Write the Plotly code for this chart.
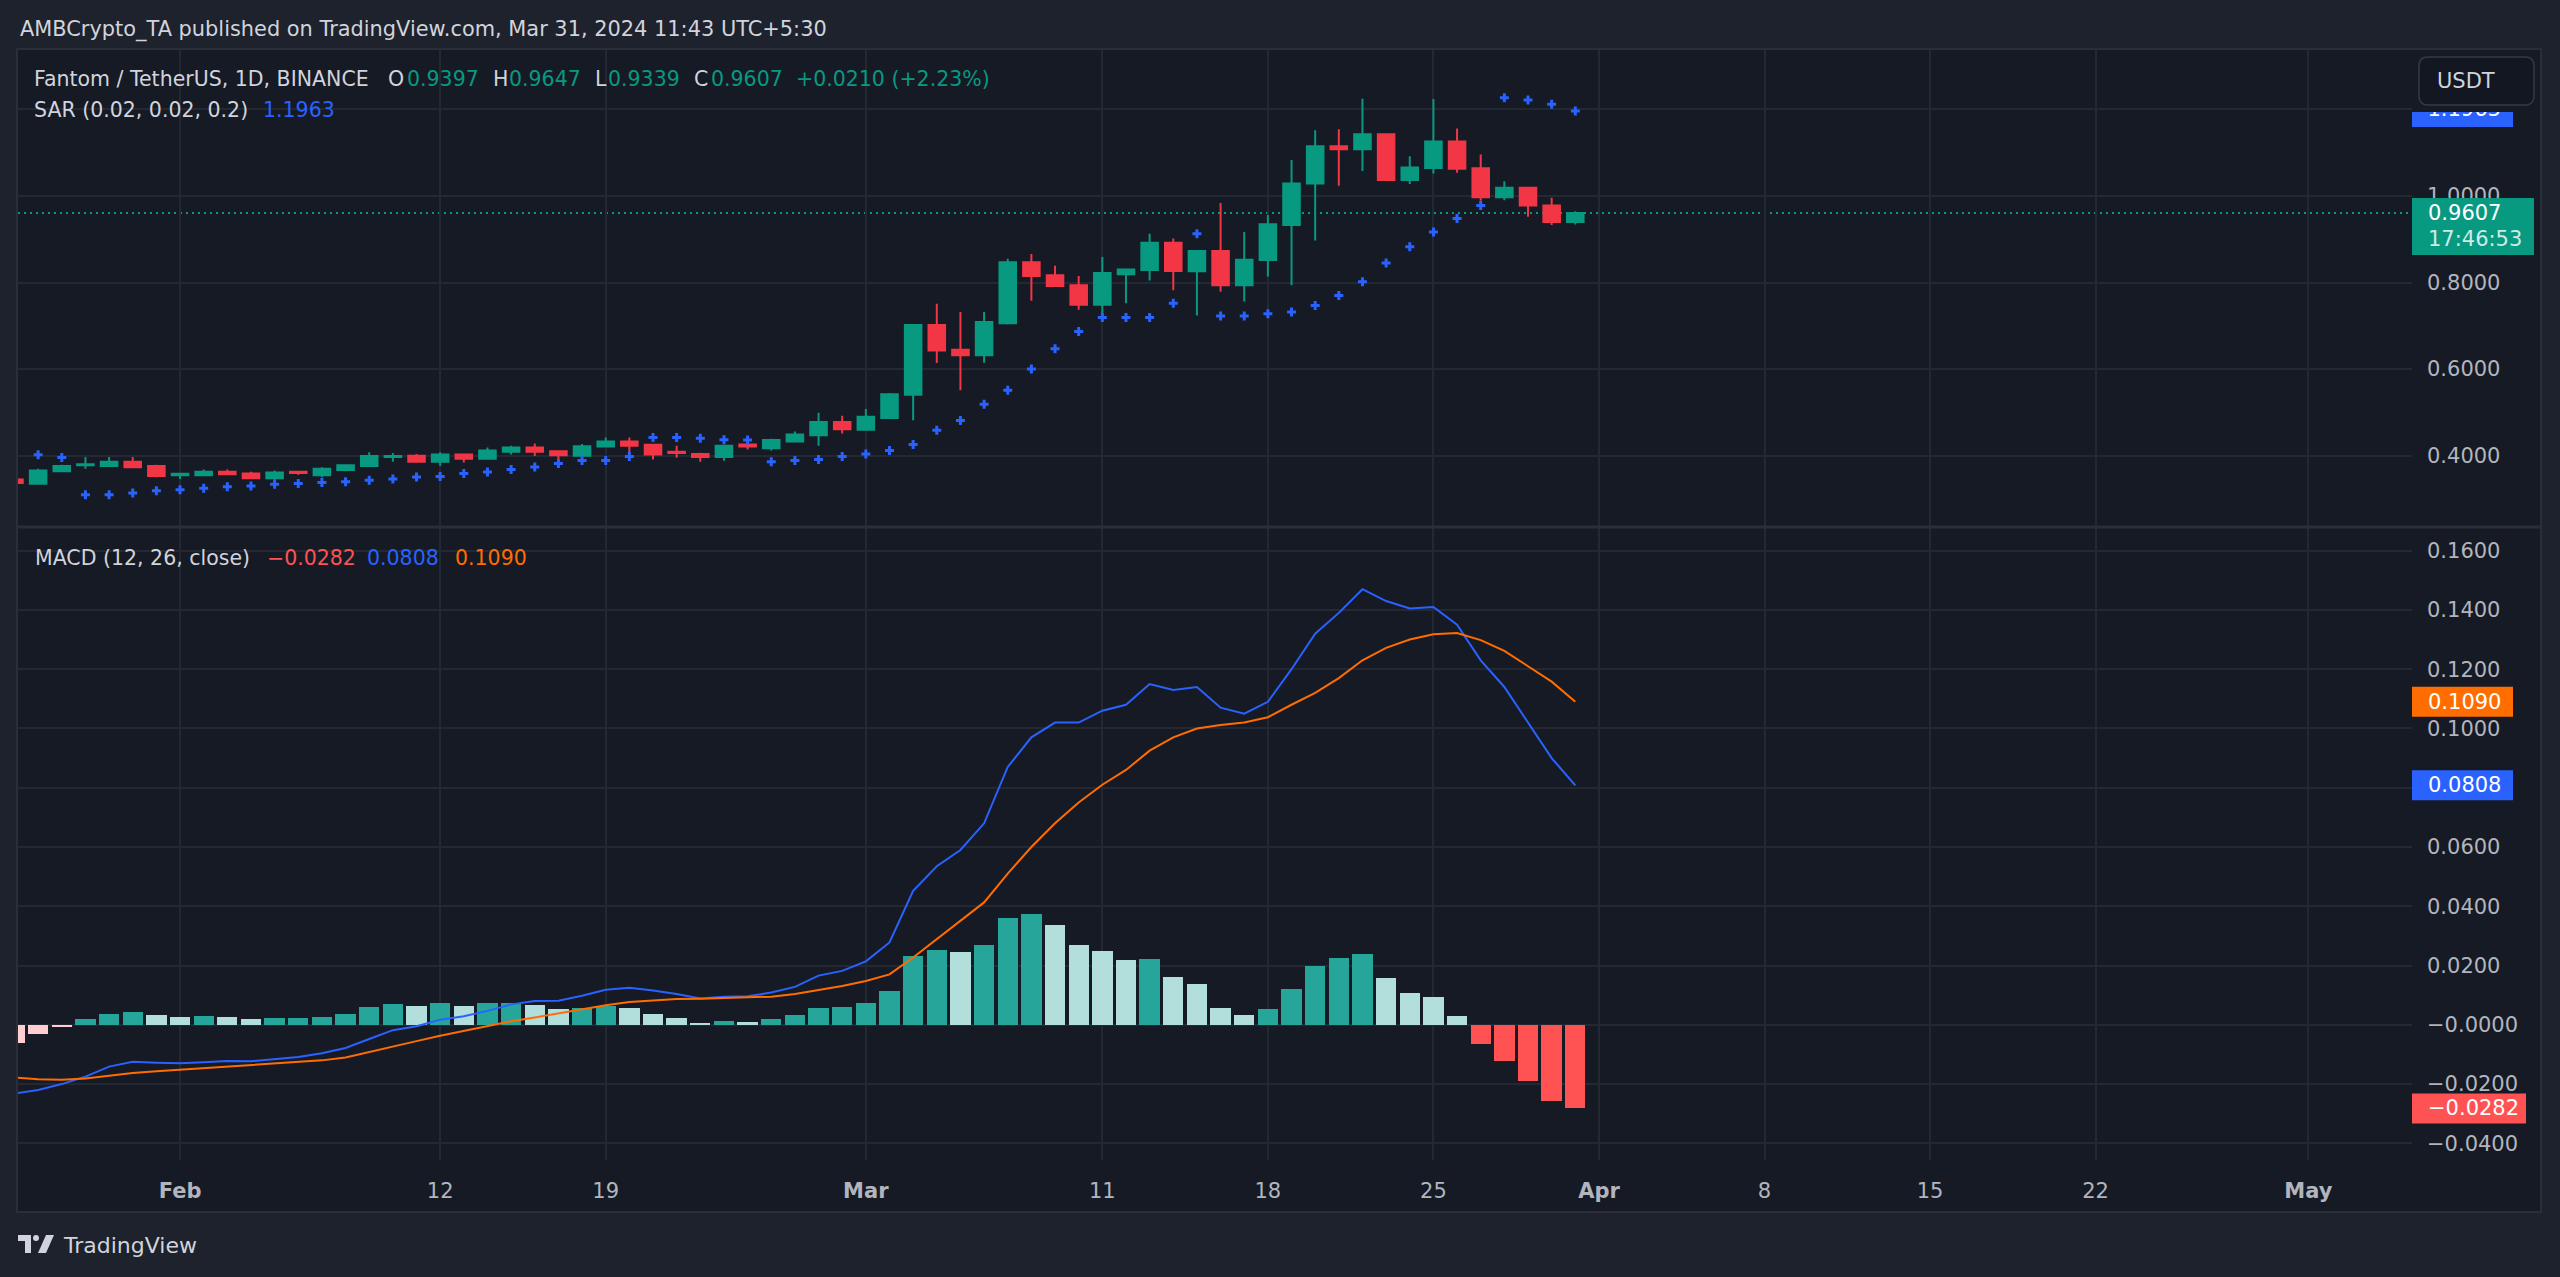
import pandas as pd
import plotly.graph_objects as go

W, H = 2560, 1277
FONT = "DejaVu Sans"

# ---------------- data ----------------
dates = pd.date_range("2024-01-25", "2024-03-31", freq="D").strftime("%Y-%m-%d").tolist()

opens = [0.345, 0.335, 0.364, 0.378, 0.376, 0.386, 0.376,
         0.355, 0.355, 0.363, 0.359, 0.348, 0.363, 0.355, 0.367, 0.376, 0.397,
         0.400, 0.386, 0.403, 0.393, 0.409, 0.419, 0.410, 0.400, 0.421, 0.433,
         0.425, 0.409, 0.404, 0.397, 0.426, 0.417, 0.433, 0.447, 0.478,
         0.460, 0.487, 0.541, 0.702, 0.645, 0.632, 0.706, 0.847, 0.817, 0.794,
         0.749, 0.819, 0.829, 0.892, 0.826, 0.873, 0.794, 0.852, 0.933, 1.029,
         1.115, 1.108, 1.143, 1.037, 1.065, 1.126, 1.064, 0.997, 1.019, 0.978, 0.9397]
highs = [0.348, 0.370, 0.379, 0.397, 0.397, 0.397, 0.379,
         0.358, 0.368, 0.368, 0.363, 0.366, 0.365, 0.373, 0.380, 0.408, 0.406,
         0.404, 0.408, 0.405, 0.419, 0.423, 0.428, 0.412, 0.427, 0.442, 0.442,
         0.427, 0.423, 0.407, 0.425, 0.430, 0.439, 0.456, 0.499, 0.492,
         0.508, 0.545, 0.703, 0.751, 0.732, 0.732, 0.855, 0.866, 0.839, 0.815,
         0.859, 0.831, 0.913, 0.902, 0.875, 0.984, 0.917, 0.956, 1.083, 1.152,
         1.154, 1.225, 1.145, 1.092, 1.224, 1.156, 1.096, 1.034, 1.021, 0.996, 0.9647]
lows = [0.334, 0.333, 0.362, 0.370, 0.374, 0.372, 0.350,
        0.346, 0.354, 0.355, 0.347, 0.343, 0.356, 0.350, 0.364, 0.375, 0.386,
        0.385, 0.376, 0.384, 0.392, 0.403, 0.399, 0.385, 0.398, 0.420, 0.405,
        0.391, 0.395, 0.386, 0.388, 0.414, 0.412, 0.432, 0.423, 0.451,
        0.458, 0.485, 0.482, 0.614, 0.551, 0.615, 0.703, 0.758, 0.790, 0.737,
        0.720, 0.752, 0.805, 0.782, 0.724, 0.779, 0.756, 0.814, 0.794, 0.897,
        1.024, 1.058, 1.035, 1.028, 1.052, 1.054, 0.989, 0.990, 0.952, 0.933, 0.9339]
closes = [0.337, 0.366, 0.376, 0.380, 0.386, 0.373, 0.353,
          0.358, 0.363, 0.357, 0.348, 0.361, 0.360, 0.370, 0.378, 0.399, 0.399,
          0.386, 0.403, 0.393, 0.412, 0.419, 0.409, 0.401, 0.422, 0.433, 0.423,
          0.403, 0.406, 0.397, 0.423, 0.421, 0.436, 0.449, 0.478, 0.461,
          0.490, 0.542, 0.702, 0.643, 0.632, 0.709, 0.847, 0.815, 0.792, 0.749,
          0.822, 0.830, 0.892, 0.827, 0.873, 0.794, 0.853, 0.935, 1.029, 1.115,
          1.108, 1.143, 1.037, 1.066, 1.126, 1.063, 0.997, 1.019, 0.978, 0.9397, 0.9607]

sar = [None, 0.402, 0.396, 0.310, 0.310, 0.314, 0.319,
       0.321, 0.325, 0.328, 0.330, 0.334, 0.336, 0.338, 0.340, 0.343, 0.346,
       0.351, 0.352, 0.359, 0.362, 0.368, 0.374, 0.382, 0.389, 0.389, 0.398,
       0.442, 0.442, 0.440, 0.437, 0.436, 0.386, 0.389, 0.391, 0.398,
       0.404, 0.412, 0.426, 0.459, 0.481, 0.519, 0.551, 0.600, 0.647, 0.687,
       0.719, 0.719, 0.719, 0.752, 0.913, 0.723, 0.723, 0.728, 0.732, 0.747,
       0.770, 0.802, 0.845, 0.883, 0.917, 0.948, 0.978, 1.227, 1.222, 1.212, 1.1963]

macd_line = [-0.0232, -0.0220, -0.0200, -0.0175, -0.0141, -0.0125, -0.0128,
             -0.0130, -0.0126, -0.0122, -0.0123, -0.0116, -0.0109, -0.0096, -0.0078,
             -0.0048, -0.0018, -0.0005, 0.0017, 0.0029, 0.0047, 0.0069, 0.0080,
             0.0081, 0.0098, 0.0118, 0.0125, 0.0116, 0.0104, 0.0089, 0.0095,
             0.0096, 0.0109, 0.0128, 0.0166, 0.0182,
             0.0214, 0.0278, 0.0452, 0.0535, 0.0590, 0.0680, 0.0870, 0.0970,
             0.1020, 0.1020, 0.1060, 0.1080, 0.1150, 0.1130, 0.1140, 0.1070,
             0.1050, 0.1090, 0.1200, 0.1320, 0.1390, 0.1470, 0.1430, 0.1405,
             0.1410, 0.1350, 0.1230, 0.1140, 0.1020, 0.0900, 0.0808]
signal_line = [-0.0178, -0.0184, -0.0185, -0.0181, -0.0172, -0.0163, -0.0157,
               -0.0152, -0.0146, -0.0142, -0.0136, -0.0132, -0.0126, -0.0120, -0.0110,
               -0.0091, -0.0072, -0.0055, -0.0037, -0.0020, -0.0003, 0.0012, 0.0025,
               0.0039, 0.0053, 0.0066, 0.0077, 0.0083, 0.0087, 0.0088, 0.0090,
               0.0091, 0.0095, 0.0104, 0.0118, 0.0131,
               0.0148, 0.0170, 0.0227, 0.0289, 0.0349, 0.0413, 0.0510, 0.0600,
               0.0680, 0.0750, 0.0810, 0.0860, 0.0925, 0.0970, 0.1000, 0.1012,
               0.1020, 0.1038, 0.1080, 0.1120, 0.1170, 0.1230, 0.1272, 0.1300,
               0.1318, 0.1322, 0.1298, 0.1262, 0.1210, 0.1158, 0.1090]
hist = [-0.0060, -0.0032, -0.0007, 0.0018, 0.0037, 0.0044, 0.0032,
        0.0025, 0.0029, 0.0026, 0.0019, 0.0023, 0.0024, 0.0028, 0.0037, 0.0060,
        0.0069, 0.0065, 0.0072, 0.0065, 0.0072, 0.0075, 0.0066, 0.0053, 0.0056,
        0.0063, 0.0056, 0.0038, 0.0023, 0.0007, 0.0012, 0.0011, 0.0021, 0.0033,
        0.0057, 0.0060,
        0.0072, 0.0113, 0.0231, 0.0252, 0.0246, 0.0270, 0.0359, 0.0373, 0.0338,
        0.0269, 0.0248, 0.0220, 0.0222, 0.0163, 0.0137, 0.0057, 0.0033, 0.0054,
        0.0120, 0.0200, 0.0225, 0.0239, 0.0157, 0.0106, 0.0095, 0.0029,
        -0.0066, -0.0123, -0.0189, -0.0257, -0.0282]
hist_kind = ["p", "p", "p", "T", "T", "T", "t",
             "t", "T", "t", "t", "T", "T", "T", "T", "T", "T", "t", "T", "t", "T",
             "T", "t", "t", "T", "T", "t", "t", "t", "t", "T", "t", "T", "T", "T", "T",
             "T", "T", "T", "T", "t", "T", "T", "T", "t", "t", "t", "t", "T", "t",
             "t", "t", "t", "T", "T", "T", "T", "T", "t", "t", "t", "t",
             "r", "r", "r", "r", "r"]

price_ticks = [0.4, 0.6, 0.8, 1.0, 1.2]
price_tick_labels = ["0.4000", "0.6000", "0.8000", "1.0000", ""]
macd_ticks = [-0.04, -0.02, 0.0, 0.02, 0.04, 0.06, 0.08, 0.10, 0.12, 0.14, 0.16]
macd_tick_labels = ["\u22120.0400", "\u22120.0200", "\u22120.0000", "0.0200", "0.0400",
                    "0.0600", "0.0800", "0.1000", "0.1200", "0.1400", "0.1600"]
time_ticks = ["2024-02-01", "2024-02-12", "2024-02-19", "2024-03-01", "2024-03-11",
              "2024-03-18", "2024-03-25", "2024-04-01", "2024-04-08", "2024-04-15",
              "2024-04-22", "2024-05-01"]
time_tick_labels = ["<b>Feb</b>", "12", "19", "<b>Mar</b>", "11", "18", "25", "<b>Apr</b>",
                    "8", "15", "22", "<b>May</b>"]
time_range = ["2024-01-25 03:34", "2024-05-05 09:07"]

# ---------------- style ----------------
BG_OUT = "#1E222D"
BG = "#161A25"
GRID = "#242833"
BORDER = "#2A2E39"
UP = "#089981"
DOWN = "#F23645"
BLUE = "#2962FF"
ORANGE = "#FF6D00"
RED = "#FF5252"
TEXT = "#D1D4DC"
AXT = "#B2B5BE"
HIST_COL = {"T": "#26A69A", "t": "#B2DFDB", "p": "#FFCDD2", "r": "#FF5252"}

PLOT_L, PLOT_R = 18, 2412
FRAME_R = 2541
TOP, SEP, MACD_B, FRAME_B = 49, 527, 1160, 1212


def px(x):
    return x / W


def py(y):
    return 1 - y / H


fig = go.Figure()

fig.add_trace(go.Candlestick(
    x=dates, open=opens, high=highs, low=lows, close=closes,
    increasing=dict(line=dict(color=UP, width=2), fillcolor=UP),
    decreasing=dict(line=dict(color=DOWN, width=2), fillcolor=DOWN),
    whiskerwidth=0, xaxis="x", yaxis="y", showlegend=False, hoverinfo="skip"))
fig.add_trace(go.Scatter(
    x=dates, y=sar, mode="markers", xaxis="x", yaxis="y", showlegend=False,
    marker=dict(symbol="cross", size=7.5, color=BLUE, line=dict(width=0)), hoverinfo="skip"))

fig.add_trace(go.Bar(
    x=dates, y=hist, marker=dict(color=[HIST_COL[k] for k in hist_kind], line=dict(width=0)),
    width=0.86 * 86400000, xaxis="x2", yaxis="y2", showlegend=False, hoverinfo="skip"))
fig.add_trace(go.Scatter(
    x=dates, y=macd_line, mode="lines", line=dict(color=BLUE, width=2),
    xaxis="x2", yaxis="y2", showlegend=False, hoverinfo="skip"))
fig.add_trace(go.Scatter(
    x=dates, y=signal_line, mode="lines", line=dict(color=ORANGE, width=2),
    xaxis="x2", yaxis="y2", showlegend=False, hoverinfo="skip"))

# SAR value label text in the price-scale column (so its top can be clipped)
fig.add_trace(go.Scatter(
    x=[0.12], y=[sar[-1]], mode="text", text=[f"{sar[-1]:.4f}"],
    textposition="middle right", cliponaxis=False,
    textfont=dict(family=FONT, size=21, color="#FFFFFF"),
    xaxis="x3", yaxis="y3", showlegend=False, hoverinfo="skip"))

price_range = [0.2352, 1.3397]
macd_range = [-0.04562, 0.16798]
ydom_price = [py(SEP), py(TOP)]
ydom_macd = [py(MACD_B), py(SEP)]

xcommon = dict(type="date", range=time_range, domain=[px(PLOT_L), px(PLOT_R)],
               tickvals=time_ticks, ticktext=time_tick_labels, showgrid=True,
               gridcolor=GRID, gridwidth=1.5, zeroline=False, showline=False, ticks="",
               rangeslider=dict(visible=False), fixedrange=True)
ycommon = dict(side="right", showgrid=True, gridcolor=GRID, gridwidth=1.5, zeroline=False,
               showline=False, ticks="", fixedrange=True, ticklabelstandoff=14,
               tickfont=dict(family=FONT, size=21, color=AXT))

fig.update_layout(
    width=W, height=H, margin=dict(l=0, r=0, t=0, b=0),
    paper_bgcolor=BG_OUT, plot_bgcolor=BG, showlegend=False,
    boxgap=0.3, boxgroupgap=0, bargap=0,
    xaxis=dict(xcommon, anchor="y", showticklabels=False),
    xaxis2=dict(xcommon, anchor="y2", matches="x", showticklabels=True, ticklabelstandoff=16,
                tickfont=dict(family=FONT, size=21, color=AXT)),
    yaxis=dict(ycommon, domain=ydom_price, range=price_range, anchor="x",
               tickvals=price_ticks, ticktext=price_tick_labels),
    yaxis2=dict(ycommon, domain=ydom_macd, range=macd_range, anchor="x2",
                tickvals=macd_ticks, ticktext=macd_tick_labels),
    xaxis3=dict(domain=[px(PLOT_R), px(FRAME_R)], range=[0, 1], visible=False,
                anchor="y3", fixedrange=True),
    yaxis3=dict(domain=ydom_price, range=price_range, visible=False, anchor="x3",
                fixedrange=True),
)

shapes = []
# chart region background
shapes.append(dict(type="rect", xref="paper", yref="paper", x0=px(16), x1=px(FRAME_R),
                   y0=py(FRAME_B), y1=py(TOP), fillcolor=BG, line=dict(width=0), layer="below"))
# last price dotted line
shapes.append(dict(type="line", xref="paper", yref="y", x0=px(PLOT_L), x1=px(PLOT_R),
                   y0=closes[-1], y1=closes[-1], line=dict(color=UP, width=2, dash="2px,4px"),
                   layer="below"))
# macd zero dashed line
shapes.append(dict(type="line", xref="paper", yref="y2", x0=px(PLOT_L), x1=px(PLOT_R),
                   y0=0, y1=0, line=dict(color="#5D606B", width=1.5, dash="9px,7px"),
                   layer="below"))
# SAR label box (below its text)
shapes.append(dict(type="rect", xref="paper", yref="y", x0=px(PLOT_R), x1=px(2513),
                   ysizemode="pixel", yanchor=sar[-1], y0=-16, y1=15,
                   fillcolor=BLUE, line=dict(width=0), layer="below"))
# cover hiding top part of SAR label
shapes.append(dict(type="rect", xref="paper", yref="paper", x0=px(PLOT_R), x1=px(FRAME_R - 1),
                   y0=py(112), y1=py(TOP + 1), fillcolor=BG, line=dict(width=0), layer="above"))
# last price label box
shapes.append(dict(type="rect", xref="paper", yref="y", x0=px(PLOT_R), x1=px(2534),
                   ysizemode="pixel", yanchor=closes[-1], y0=-42, y1=15,
                   fillcolor=UP, line=dict(width=0), layer="above"))
# MACD labels boxes
for val, col, right in [(signal_line[-1], ORANGE, 2513), (macd_line[-1], BLUE, 2513),
                        (hist[-1], RED, 2526)]:
    shapes.append(dict(type="rect", xref="paper", yref="y2", x0=px(PLOT_R), x1=px(right),
                       ysizemode="pixel", yanchor=val, y0=-15, y1=15,
                       fillcolor=col, line=dict(width=0), layer="above"))


def rrect(x0, y0, x1, y1, r):
    return (f"M {px(x0 + r)},{py(y0)} L {px(x1 - r)},{py(y0)} Q {px(x1)},{py(y0)} {px(x1)},{py(y0 + r)} "
            f"L {px(x1)},{py(y1 - r)} Q {px(x1)},{py(y1)} {px(x1 - r)},{py(y1)} L {px(x0 + r)},{py(y1)} "
            f"Q {px(x0)},{py(y1)} {px(x0)},{py(y1 - r)} L {px(x0)},{py(y0 + r)} Q {px(x0)},{py(y0)} {px(x0 + r)},{py(y0)} Z")


# USDT button
shapes.append(dict(type="path", xref="paper", yref="paper", path=rrect(2419, 57, 2534, 105, 9),
                   fillcolor="#131722", line=dict(color="#363A45", width=1.5), layer="above"))
# frame + separator
shapes.append(dict(type="rect", xref="paper", yref="paper", x0=px(17), x1=px(FRAME_R),
                   y0=py(FRAME_B), y1=py(TOP), line=dict(color=BORDER, width=2), layer="above"))
shapes.append(dict(type="line", xref="paper", yref="paper", x0=px(17), x1=px(FRAME_R),
                   y0=py(SEP), y1=py(SEP), line=dict(color=BORDER, width=3), layer="above"))
# TradingView logo
shapes.append(dict(type="path", xref="paper", yref="paper", layer="above", fillcolor=TEXT,
                   line=dict(width=0),
                   path=f"M {px(18)},{py(1235)} L {px(31)},{py(1235)} L {px(31)},{py(1253)} "
                        f"L {px(25)},{py(1253)} L {px(25)},{py(1241)} L {px(18)},{py(1241)} Z"))
shapes.append(dict(type="circle", xref="paper", yref="paper", layer="above", fillcolor=TEXT,
                   line=dict(width=0), x0=px(33), x1=px(39), y0=py(1241), y1=py(1235)))
shapes.append(dict(type="path", xref="paper", yref="paper", layer="above", fillcolor=TEXT,
                   line=dict(width=0),
                   path=f"M {px(46)},{py(1235)} L {px(54)},{py(1235)} L {px(46)},{py(1253)} "
                        f"L {px(38)},{py(1253)} Z"))
fig.update_layout(shapes=shapes)


def label(x, y, text, color, size=20.5, anchor="left", weight=None):
    fig.add_annotation(x=px(x), y=py(y), xref="paper", yref="paper", text=text,
                       showarrow=False, xanchor=anchor, yanchor="middle", borderpad=0,
                       font=dict(family=FONT, size=size, color=color, weight=weight))


label(19, 29, "AMBCrypto_TA published on TradingView.com, Mar 31, 2024 11:43 UTC+5:30", TEXT, 20.9)

chg = closes[-1] - closes[-2]
pct = chg / closes[-2] * 100
L1, L2 = 79, 110
label(33, L1, "Fantom / TetherUS, 1D, BINANCE", TEXT)
label(387, L1, "O", TEXT)
label(406, L1, f"{opens[-1]:.4f}", UP)
label(492, L1, "H", TEXT)
label(508, L1, f"{highs[-1]:.4f}", UP)
label(594, L1, "L", TEXT)
label(607, L1, f"{lows[-1]:.4f}", UP)
label(693, L1, "C", TEXT)
label(710, L1, f"{closes[-1]:.4f}", UP)
label(795, L1, f"+{chg:.4f} (+{pct:.2f}%)", UP)
label(33, L2, "SAR (0.02, 0.02, 0.2)", TEXT)
label(262, L2, f"{sar[-1]:.4f}", BLUE)


def fmt(v):
    s = f"{v:.4f}"
    return s.replace("-", "\u2212")


label(34, 558, "MACD (12, 26, close)", TEXT)
label(266, 558, fmt(hist[-1]), RED)
label(366, 558, fmt(macd_line[-1]), BLUE)
label(454, 558, fmt(signal_line[-1]), ORANGE)

# price-scale label texts
fig.add_annotation(x=px(2427), y=closes[-1], xref="paper", yref="y", text=f"{closes[-1]:.4f}",
                   showarrow=False, xanchor="left", yanchor="middle", borderpad=0,
                   font=dict(family=FONT, size=21, color="#FFFFFF"))
fig.add_annotation(x=px(2427), y=closes[-1], xref="paper", yref="y", text="17:46:53",
                   showarrow=False, xanchor="left", yanchor="middle", yshift=-26, borderpad=0,
                   font=dict(family=FONT, size=21, color="#CDEBE4"))
for val in [signal_line[-1], macd_line[-1], hist[-1]]:
    fig.add_annotation(x=px(2427), y=val, xref="paper", yref="y2", text=fmt(val),
                       showarrow=False, xanchor="left", yanchor="middle", borderpad=0,
                       font=dict(family=FONT, size=21, color="#FFFFFF"))

label(2466, 81, "USDT", TEXT, 21, anchor="center")
label(62, 1245, "TradingView", TEXT, 22)

fig.write_html("out.html", config={"displayModeBar": False},
               post_script="document.body.style.margin='0';document.body.style.overflow='hidden';")
